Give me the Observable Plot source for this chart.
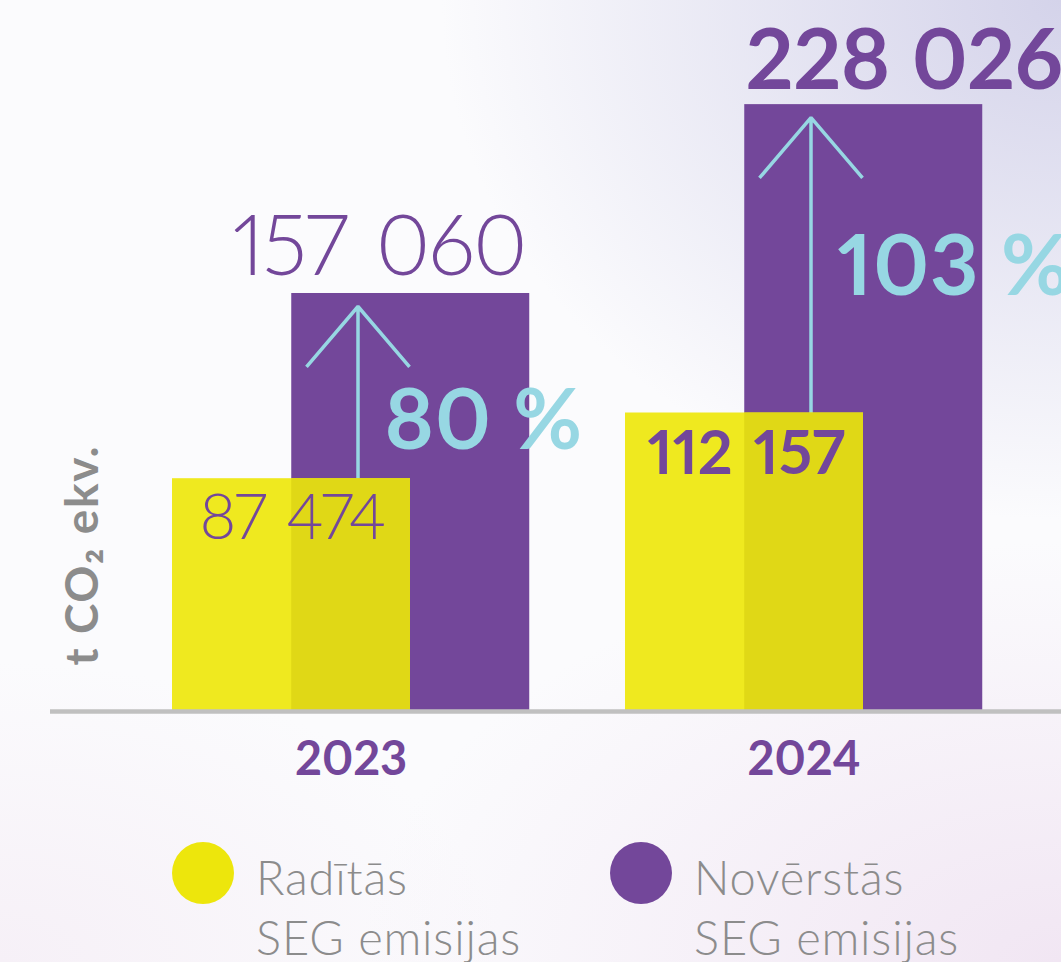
<!DOCTYPE html>
<html>
<head>
<meta charset="utf-8">
<script src="https://cdn.jsdelivr.net/npm/d3@7"></script>
<script src="https://cdn.jsdelivr.net/npm/@observablehq/plot@0.6"></script>
<style>
  html, body { margin: 0; padding: 0; overflow: hidden; }
  body {
    width: 1061px; height: 962px;
    background:
      radial-gradient(ellipse 620px 520px at 100% 0%, #d4d3ea 0%, rgba(255,255,255,0) 100%),
      radial-gradient(ellipse 700px 420px at 100% 100%, #f1e6f3 0%, rgba(255,255,255,0) 100%),
      radial-gradient(ellipse 500px 300px at 0% 100%, #f6f0f7 0%, rgba(255,255,255,0) 100%),
      #fbfbfd;
    font-family: Lato, "Noto Sans", sans-serif;
  }
  #wrap { position: relative; width: 1061px; height: 962px; }
  #chart svg { overflow: visible; display: block; }
  #chart text { font-variant-numeric: proportional-nums; font-feature-settings: "pnum" 1; }
  #chart g[aria-description="ls-ylabel"] text { letter-spacing: 1.6px; }
  #chart g[aria-description="ls-light-small"] text { letter-spacing: -2px; word-spacing: 6px; }
  #chart g[aria-description="ls-bold-small"] text { letter-spacing: 0px; word-spacing: 6px; }
  #chart g[aria-description="ls-light-big"] text { letter-spacing: -2px; word-spacing: 8px; }
  #chart g[aria-description="ls-bold-big"] text { letter-spacing: -0.5px; word-spacing: 2px; }
  #chart g[aria-description="ls-pct"] text { letter-spacing: 1px; }
  .legend { position: absolute; top: 842px; display: flex; align-items: flex-start; }
  .legend .sw { width: 62px; height: 62px; border-radius: 50%; margin-right: 22px; flex: none; }
  .legend .lbl { color: #8c8c8c; font-weight: 300; font-size: 47px; line-height: 60px; margin-top: 5px; letter-spacing: 0.8px; }
</style>
</head>
<body>
<div id="wrap">
  <div id="chart"></div>
</div>
<script>
// ---- data ----
const years = ["2023", "2024"];
const raditas = [87474, 112157];      // Radītās SEG emisijas (t CO2 ekv.)
const noverstas = [157060, 228026];   // Novērstās SEG emisijas (t CO2 ekv.)
const growth = [80, 103];             // %
const legendLabels = [["Radītās", "SEG emisijas"], ["Novērstās", "SEG emisijas"]];
const yLabel = "t CO₂ ekv.";

// ---- styling ----
const PURPLE = "#73479a";
const YELLOW = "#efe91f";
const OVERLAP = "#e0d816";
const BLUE = "#97d7e3";
const GRAY = "#8c8c8c";
const legendColors = ["#ede60c", PURPLE];

const data = years.map((year, i) => ({year, raditas: raditas[i], noverstas: noverstas[i], growth: growth[i]}));
const fmt = d3.formatLocale({thousands: " ", grouping: [3], decimal: ","}).format(",d");
const only = (y) => data.filter(d => d.year === y);

const HALF = 119.25; // half of bar width: purple bar shifted by half a bar

const chart = Plot.plot({
  width: 1061,
  height: 800,
  marginTop: 0,
  marginLeft: 50,
  marginRight: 0,
  marginBottom: 89,
  style: {background: "transparent", overflow: "visible", fontFamily: "Lato, 'Noto Sans', sans-serif"},
  x: {type: "band", domain: years, range: [172, 864], paddingInner: 0.4746, paddingOuter: 0, label: null},
  y: {domain: [0, 267150], axis: null},
  marks: [
    // purple bars (Novērstās)
    Plot.barY(data, {x: "year", y: "noverstas", fill: PURPLE, dx: HALF}),
    // arrows
    Plot.arrow(data, {
      x: "year", y1: 0, y2: "noverstas", dx: 66.5, insetEnd: 13,
      headAngle: 81, headLength: 34, stroke: BLUE, strokeWidth: 3.5,
      strokeLinecap: "butt", strokeLinejoin: "miter"
    }),
    // yellow bars (Radītās)
    Plot.barY(data, {x: "year", y: "raditas", fill: YELLOW}),
    // overlap region
    Plot.barY(data, {x: "year", y: "raditas", fill: OVERLAP, insetLeft: HALF}),
    // baseline
    Plot.ruleY([0], {stroke: "#c0c0c0", strokeWidth: 4.5}),
    // x axis labels
    Plot.axisX({tickSize: 0, tickPadding: 30, fontSize: 47, fontWeight: 700, fill: PURPLE, dx: HALF / 2, label: null, lineAnchor: "top"}),
    // y label
    Plot.text([yLabel], {
      frameAnchor: "bottom-left", rotate: -90, textAnchor: "start", lineAnchor: "bottom",
      dx: 47, dy: -46, fontSize: 46, fontWeight: 700, fill: GRAY, ariaDescription: "ls-ylabel"
    }),
    // yellow value labels
    Plot.text(only("2023"), {x: "year", y: "raditas", text: d => fmt(d.raditas), textAnchor: "start", lineAnchor: "bottom",
      dx: -92, dy: 60, fontSize: 63, fontWeight: 300, fill: PURPLE, ariaDescription: "ls-light-small"}),
    Plot.text(only("2024"), {x: "year", y: "raditas", text: d => fmt(d.raditas), textAnchor: "start", lineAnchor: "bottom",
      dx: -97, dy: 61, fontSize: 61, fontWeight: 700, fill: PURPLE, ariaDescription: "ls-bold-small"}),
    // purple value labels
    Plot.text(only("2023"), {x: "year", y: "noverstas", text: d => fmt(d.noverstas), textAnchor: "start", lineAnchor: "bottom",
      dx: -59, dy: -18, fontSize: 84, fontWeight: 300, fill: PURPLE, ariaDescription: "ls-light-big"}),
    Plot.text(only("2024"), {x: "year", y: "noverstas", text: d => fmt(d.noverstas), textAnchor: "start", lineAnchor: "bottom",
      dx: 1, dy: -16, fontSize: 84, fontWeight: 700, fill: PURPLE, ariaDescription: "ls-bold-big"}),
    // growth labels
    Plot.text(only("2023"), {x: "year", y: "noverstas", text: d => `${d.growth} %`, textAnchor: "start", lineAnchor: "bottom",
      dx: 93, dy: 156, fontSize: 84, fontWeight: 700, fill: BLUE, ariaDescription: "ls-pct"}),
    Plot.text(only("2024"), {x: "year", y: "noverstas", text: d => `${d.growth} %`, textAnchor: "start", lineAnchor: "bottom",
      dx: 93, dy: 190, fontSize: 84, fontWeight: 700, fill: BLUE, ariaDescription: "ls-pct"})
  ]
});
document.getElementById("chart").append(chart);

// legend
const wrap = document.getElementById("wrap");
const lefts = [172, 610];
legendLabels.forEach((lines, i) => {
  const item = document.createElement("div");
  item.className = "legend";
  item.style.left = lefts[i] + "px";
  const sw = document.createElement("div");
  sw.className = "sw";
  sw.style.background = legendColors[i];
  const lbl = document.createElement("div");
  lbl.className = "lbl";
  lbl.innerHTML = lines.join("<br>");
  item.append(sw, lbl);
  wrap.append(item);
});
</script>
</body>
</html>
